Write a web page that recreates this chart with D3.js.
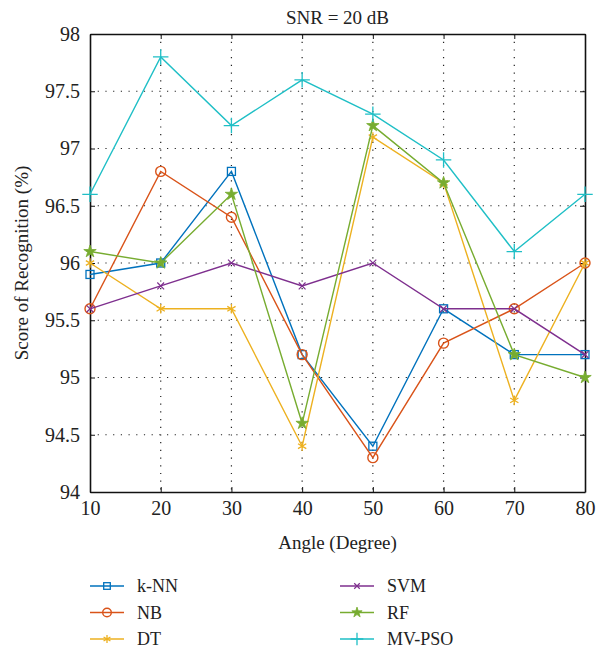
<!DOCTYPE html>
<html>
<head>
<meta charset="utf-8">
<script src="https://cdn.jsdelivr.net/npm/d3@7"></script>
<style>
  body { margin: 0; background: #fff; }
  svg, svg text { font-family: "Liberation Serif", "DejaVu Serif", serif; }
</style>
</head>
<body>
<svg width="597" height="650"></svg>
<script>
const angles = [10, 20, 30, 40, 50, 60, 70, 80];
const yTicks = [94, 94.5, 95, 95.5, 96, 96.5, 97, 97.5, 98];

const knn   = [95.9, 96.0, 96.8, 95.2, 94.4, 95.6, 95.2, 95.2];
const nb    = [95.6, 96.8, 96.4, 95.2, 94.3, 95.3, 95.6, 96.0];
const dt    = [96.0, 95.6, 95.6, 94.4, 97.1, 96.7, 94.8, 96.0];
const svmV  = [95.6, 95.8, 96.0, 95.8, 96.0, 95.6, 95.6, 95.2];
const rf    = [96.1, 96.0, 96.6, 94.6, 97.2, 96.7, 95.2, 95.0];
const mvpso = [96.6, 97.8, 97.2, 97.6, 97.3, 96.9, 96.1, 96.6];

const series = [
  { name: "k-NN",   values: knn,   color: "#0072BD", marker: "square" },
  { name: "NB",     values: nb,    color: "#D95319", marker: "circle" },
  { name: "DT",     values: dt,    color: "#EDB120", marker: "asterisk" },
  { name: "SVM",    values: svmV,  color: "#7E2F8E", marker: "x" },
  { name: "RF",     values: rf,    color: "#77AC30", marker: "star" },
  { name: "MV-PSO", values: mvpso, color: "#1FBFC6", marker: "plus" }
];

const svg = d3.select("svg");
const margin = { top: 34, right: 12, bottom: 158, left: 90 };
const width = 597 - margin.left - margin.right;
const height = 650 - margin.top - margin.bottom;

const g = svg.append("g").attr("transform", `translate(${margin.left},${margin.top})`);

const x = d3.scaleLinear().domain([10, 80]).range([0, width]);
const y = d3.scaleLinear().domain([94, 98]).range([height, 0]);

// grid
g.append("g").selectAll("line").data(angles.slice(1, -1)).join("line")
  .attr("x1", d => x(d)).attr("x2", d => x(d))
  .attr("y1", 0).attr("y2", height)
  .attr("stroke", "#222").attr("stroke-width", 1.2)
  .attr("stroke-dasharray", "1.2,6.5");
g.append("g").selectAll("line").data(yTicks.slice(1, -1)).join("line")
  .attr("x1", 0).attr("x2", width)
  .attr("y1", d => y(d)).attr("y2", d => y(d))
  .attr("stroke", "#222").attr("stroke-width", 1.2)
  .attr("stroke-dasharray", "1.2,6.5");

// axes
const fmt = d => String(d);
g.append("g").attr("transform", `translate(0,${height})`)
  .call(d3.axisBottom(x).tickValues(angles).tickFormat(fmt).tickSizeInner(-5).tickSizeOuter(0).tickPadding(9));
g.append("g")
  .call(d3.axisLeft(y).tickValues(yTicks).tickFormat(fmt).tickSizeInner(-5).tickSizeOuter(0).tickPadding(10));
g.append("g").call(d3.axisTop(x).tickValues(angles).tickFormat("").tickSizeInner(-5).tickSizeOuter(0));
g.append("g").attr("transform", `translate(${width},0)`)
  .call(d3.axisRight(y).tickValues(yTicks).tickFormat("").tickSizeInner(-5).tickSizeOuter(0));

svg.selectAll(".domain").attr("stroke", "#111").attr("stroke-width", 1.6);
svg.selectAll(".tick line").attr("stroke", "#111").attr("stroke-width", 1);
g.selectAll("g").attr("font-family", "Liberation Serif, serif");
svg.selectAll(".tick text").attr("font-size", 20).attr("fill", "#222");

// labels
svg.append("text").attr("x", margin.left + width / 2).attr("y", 24)
  .attr("text-anchor", "middle").attr("font-size", 19).attr("fill", "#222").text("SNR = 20 dB");
svg.append("text").attr("x", margin.left + width / 2).attr("y", 549)
  .attr("text-anchor", "middle").attr("font-size", 19).attr("fill", "#222").text("Angle (Degree)");
svg.append("text")
  .attr("transform", `translate(28,${margin.top + height / 2}) rotate(-90)`)
  .attr("text-anchor", "middle").attr("font-size", 19).attr("fill", "#222")
  .text("Score of Recognition (%)");

function drawMarker(sel, type, color, s) {
  if (type === "square") {
    sel.append("rect").attr("x", -s).attr("y", -s).attr("width", 2 * s).attr("height", 2 * s)
      .attr("fill", "none").attr("stroke", color).attr("stroke-width", 1.3);
  } else if (type === "circle") {
    sel.append("circle").attr("r", s + 1).attr("fill", "none").attr("stroke", color).attr("stroke-width", 1.4);
  } else if (type === "x") {
    sel.append("path").attr("d", d3.symbol(d3.symbolX, s * s * 2)())
      .attr("fill", "none").attr("stroke", color).attr("stroke-width", 1.2);
  } else if (type === "plus") {
    sel.append("path").attr("d", d3.symbol(d3.symbolPlus, s * s * 5)())
      .attr("fill", "none").attr("stroke", color).attr("stroke-width", 1.3);
  } else if (type === "asterisk") {
    sel.append("path").attr("d", d3.symbol(d3.symbolAsterisk, s * s * 4)())
      .attr("fill", "none").attr("stroke", color).attr("stroke-width", 1.3);
  } else if (type === "star") {
    sel.append("path").attr("d", d3.symbol(d3.symbolStar, s * s * 3)())
      .attr("fill", color).attr("stroke", color).attr("stroke-width", 0.8);
  }
}

const line = d3.line().x((d, i) => x(angles[i])).y(d => y(d));

series.forEach(s => {
  g.append("path").datum(s.values)
    .attr("fill", "none").attr("stroke", s.color).attr("stroke-width", 1.4)
    .attr("d", line);
  g.append("g").selectAll("g").data(s.values).join("g")
    .attr("transform", (d, i) => `translate(${x(angles[i])},${y(d)})`)
    .each(function () { drawMarker(d3.select(this), s.marker, s.color, 4); });
});

// legend
const legend = svg.append("g");
series.forEach((s, i) => {
  const col = Math.floor(i / 3), row = i % 3;
  const lg = legend.append("g").attr("transform", `translate(${90 + col * 250},${586 + row * 26.5})`);
  lg.append("line").attr("x1", 0).attr("x2", 34).attr("stroke", s.color).attr("stroke-width", 1.6);
  drawMarker(lg.append("g").attr("transform", "translate(17,0)"), s.marker, s.color, 3.3);
  lg.append("text").attr("x", 47).attr("y", 6).attr("font-size", 18).attr("fill", "#222").text(s.name);
});
</script>
</body>
</html>
